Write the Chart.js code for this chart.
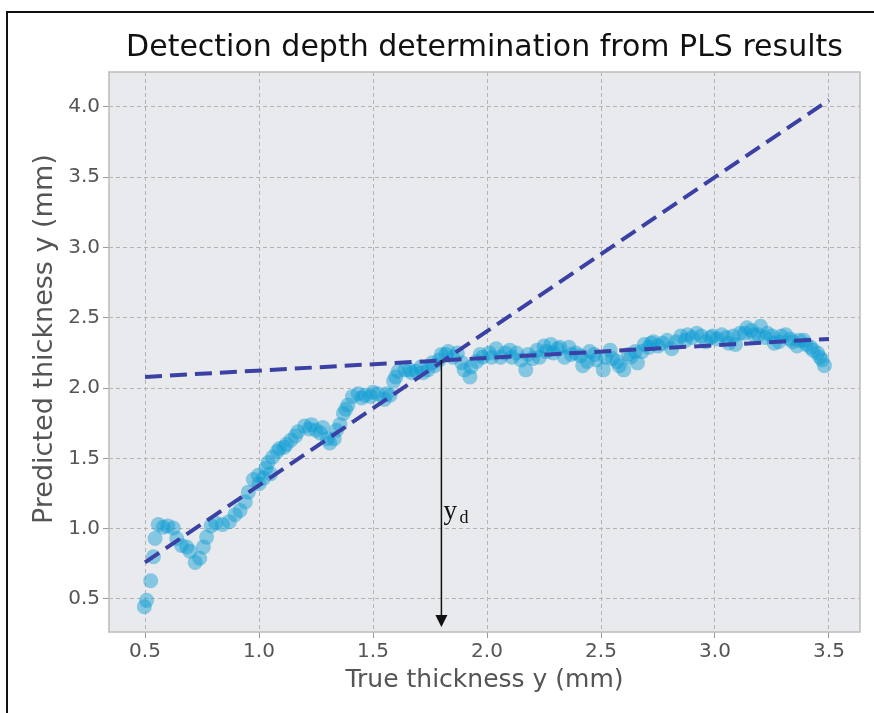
<!DOCTYPE html>
<html>
<head>
<meta charset="utf-8">
<script src="https://cdn.jsdelivr.net/npm/chart.js@4/dist/chart.umd.min.js"></script>
<style>
  body { margin: 0; background: #fff; }
  #frame { position: absolute; left: 6px; top: 11px; width: 868px; height: 702px;
           border-top: 2px solid #111; border-left: 2px solid #111; }
  #wrap { position: absolute; left: 0; top: 0; width: 874px; height: 713px; }
</style>
</head>
<body>
<div id="frame"></div>
<div id="wrap"><canvas id="chart" width="874" height="713"></canvas></div>
<script>
// scatter
const trueThickness = [
  0.497, 0.507, 0.525, 0.537, 0.544, 0.558, 0.58, 0.60, 0.624, 0.639,
  0.66, 0.683, 0.697, 0.72, 0.74, 0.756, 0.77, 0.79, 0.81, 0.84,
  0.87, 0.895, 0.917, 0.94, 0.953, 0.975, 0.997, 1.0, 1.02, 1.03,
  1.04, 1.05, 1.06, 1.08, 1.09, 1.11, 1.12, 1.14, 1.16, 1.17,
  1.20, 1.22, 1.23, 1.25, 1.27, 1.28, 1.30, 1.31, 1.33, 1.34,
  1.355, 1.37, 1.38, 1.39, 1.41, 1.435, 1.45, 1.465, 1.49, 1.50,
  1.52, 1.55, 1.56, 1.575, 1.59, 1.60, 1.61, 1.64, 1.66, 1.67,
  1.69, 1.71, 1.72, 1.74, 1.76, 1.77, 1.79, 1.80, 1.82, 1.83,
  1.85, 1.87, 1.89, 1.90, 1.925, 1.93, 1.955, 1.97, 1.98, 2.01,
  2.02, 2.04, 2.06, 2.08, 2.10, 2.11, 2.13, 2.15, 2.17, 2.18,
  2.20, 2.22, 2.23, 2.25, 2.26, 2.28, 2.29, 2.31, 2.32, 2.34,
  2.36, 2.37, 2.39, 2.41, 2.42, 2.44, 2.45, 2.47, 2.48, 2.51,
  2.52, 2.54, 2.55, 2.57, 2.58, 2.60, 2.62, 2.63, 2.65, 2.66,
  2.68, 2.69, 2.71, 2.72, 2.73, 2.75, 2.77, 2.79, 2.81, 2.83,
  2.85, 2.87, 2.88, 2.90, 2.92, 2.94, 2.96, 2.98, 2.99, 3.01,
  3.03, 3.05, 3.06, 3.08, 3.09, 3.11, 3.13, 3.14, 3.16, 3.17,
  3.19, 3.20, 3.22, 3.23, 3.25, 3.26, 3.28, 3.29, 3.31, 3.33,
  3.34, 3.36, 3.37, 3.39, 3.40, 3.42, 3.43, 3.45, 3.46, 3.47,
  3.48
];
const predictedThickness = [
  0.445, 0.49, 0.63, 0.80, 0.93, 1.03, 1.01, 1.02, 1.005, 0.93,
  0.88, 0.87, 0.84, 0.76, 0.79, 0.87, 0.94, 1.02, 1.04, 1.03,
  1.05, 1.10, 1.13, 1.19, 1.26, 1.35, 1.38, 1.32, 1.36, 1.43,
  1.47, 1.39, 1.51, 1.55, 1.57, 1.58, 1.60, 1.63, 1.66, 1.69,
  1.73, 1.71, 1.74, 1.70, 1.68, 1.72, 1.64, 1.61, 1.64, 1.70,
  1.74, 1.82, 1.85, 1.88, 1.94, 1.96, 1.93, 1.95, 1.94, 1.97,
  1.96, 1.92, 1.96, 1.95, 2.05, 2.08, 2.12, 2.13, 2.13, 2.11,
  2.12, 2.15, 2.11, 2.13, 2.18, 2.16, 2.20, 2.24, 2.24, 2.26,
  2.22, 2.25, 2.18, 2.13, 2.08, 2.15, 2.19, 2.24, 2.22, 2.25,
  2.22, 2.28, 2.22, 2.25, 2.27, 2.22, 2.25, 2.20, 2.13, 2.24,
  2.21, 2.27, 2.22, 2.30, 2.26, 2.31, 2.25, 2.28, 2.29, 2.22,
  2.29, 2.24, 2.25, 2.23, 2.16, 2.19, 2.26, 2.24, 2.20, 2.13,
  2.22, 2.27, 2.21, 2.19, 2.16, 2.13, 2.24, 2.22, 2.26, 2.18,
  2.26, 2.31, 2.29, 2.32, 2.33, 2.30, 2.32, 2.34, 2.28, 2.33,
  2.37, 2.34, 2.38, 2.36, 2.39, 2.37, 2.33, 2.36, 2.37, 2.35,
  2.38, 2.36, 2.32, 2.37, 2.31, 2.39, 2.39, 2.43, 2.41, 2.38,
  2.38, 2.44, 2.36, 2.39, 2.37, 2.32, 2.33, 2.37, 2.38, 2.35,
  2.33, 2.30, 2.34, 2.34, 2.31, 2.29, 2.27, 2.25, 2.22, 2.20,
  2.16
];

// fitted lines (end points)
const fitX = [0.5, 3.5];
const steepFitY = [0.76, 4.05];
const flatFitY = [2.08, 2.35];

// detection depth
const detectionDepth = 1.8;
const detectionPred = 2.2;

const xTicks = [0.5, 1.0, 1.5, 2.0, 2.5, 3.0, 3.5];
const yTicks = [0.5, 1.0, 1.5, 2.0, 2.5, 3.0, 3.5, 4.0];

const scatterPts = trueThickness.map((x, i) => ({ x: x, y: predictedThickness[i] }));
const steepPts = fitX.map((x, i) => ({ x: x, y: steepFitY[i] }));
const flatPts = fitX.map((x, i) => ({ x: x, y: flatFitY[i] }));

const plotBg = {
  id: 'plotBg',
  beforeDraw(chart) {
    const a = chart.chartArea, c = chart.ctx;
    c.save();
    c.fillStyle = '#e9eaed';
    c.fillRect(a.left, a.top, a.right - a.left, a.bottom - a.top);
    c.restore();
  },
  afterDraw(chart) {
    const a = chart.chartArea, c = chart.ctx;
    c.save();
    c.strokeStyle = '#bcbcbc';
    c.lineWidth = 1.5;
    c.strokeRect(a.left, a.top, a.right - a.left, a.bottom - a.top);
    c.restore();
  }
};

const arrowPlugin = {
  id: 'arrow',
  afterDatasetsDraw(chart) {
    const xs = chart.scales.x, ys = chart.scales.y, c = chart.ctx;
    const px = xs.getPixelForValue(detectionDepth);
    const y0 = ys.getPixelForValue(detectionPred);
    const y1 = chart.chartArea.bottom - 5;
    c.save();
    c.strokeStyle = '#111';
    c.fillStyle = '#111';
    c.lineWidth = 1.5;
    c.beginPath();
    c.moveTo(px, y0);
    c.lineTo(px, y1 - 11);
    c.stroke();
    c.beginPath();
    c.moveTo(px - 6, y1 - 12);
    c.lineTo(px + 6, y1 - 12);
    c.lineTo(px, y1);
    c.closePath();
    c.fill();
    c.textBaseline = 'alphabetic';
    c.font = '27px "Liberation Serif", "DejaVu Serif", serif';
    c.fillText('y', px + 2, 519);
    c.font = '18px "Liberation Serif", "DejaVu Serif", serif';
    c.fillText('d', px + 18, 523);
    c.restore();
  }
};

const tickFont = { family: 'DejaVu Sans', size: 20 };

const config = {
  type: 'scatter',
  data: {
    datasets: [
      {
        type: 'line',
        data: steepPts,
        borderColor: '#3b40a4',
        borderWidth: 4,
        borderDash: [17, 8],
        pointRadius: 0,
        fill: false,
        order: 0
      },
      {
        type: 'line',
        data: flatPts,
        borderColor: '#3b40a4',
        borderWidth: 4,
        borderDash: [17, 8],
        pointRadius: 0,
        fill: false,
        order: 0
      },
      {
        data: scatterPts,
        backgroundColor: 'rgba(10,155,210,0.45)',
        borderWidth: 0,
        pointRadius: 7.5,
        order: 1
      }
    ]
  },
  options: {
    responsive: false,
    animation: false,
    layout: { padding: { left: 0, right: 14, top: 0, bottom: 0 } },
    plugins: {
      legend: { display: false },
      tooltip: { enabled: false },
      title: {
        display: true,
        fullSize: false,
        text: 'Detection depth determination from PLS results',
        color: '#111',
        font: { family: 'DejaVu Sans', size: 30, weight: 'normal' },
        padding: { top: 30, bottom: 6 }
      }
    },
    scales: {
      x: {
        type: 'linear',
        min: 0.342,
        max: 3.636,
        afterFit(s) { s.height = 81; },
        afterBuildTicks(s) { s.ticks = xTicks.map(v => ({ value: v })); },
        ticks: {
          includeBounds: false,
          color: '#555',
          font: tickFont,
          padding: 2,
          callback: v => v.toFixed(1)
        },
        grid: { color: '#b4b4b4', tickColor: '#999', tickLength: 6, tickBorderDash: [] },
        border: { display: false, dash: [4, 3] },
        title: {
          display: true,
          text: 'True thickness y (mm)',
          color: '#555',
          font: { family: 'DejaVu Sans', size: 25 },
          padding: { top: 0, bottom: 18 }
        }
      },
      y: {
        type: 'linear',
        min: 0.265,
        max: 4.249,
        afterFit(s) { s.width = 109; },
        afterBuildTicks(s) { s.ticks = yTicks.map(v => ({ value: v })); },
        ticks: {
          includeBounds: false,
          color: '#555',
          font: tickFont,
          padding: 3,
          callback: v => v.toFixed(1)
        },
        grid: { color: '#b4b4b4', tickColor: '#999', tickLength: 6, tickBorderDash: [] },
        border: { display: false, dash: [4, 3] },
        title: {
          display: true,
          text: '   Predicted thickness y (mm)',
          color: '#555',
          font: { family: 'DejaVu Sans', size: 27 },
          padding: { top: 29, bottom: 0 }
        }
      }
    }
  },
  plugins: [plotBg, arrowPlugin]
};

new Chart(document.getElementById('chart').getContext('2d'), config);
</script>
</body>
</html>
